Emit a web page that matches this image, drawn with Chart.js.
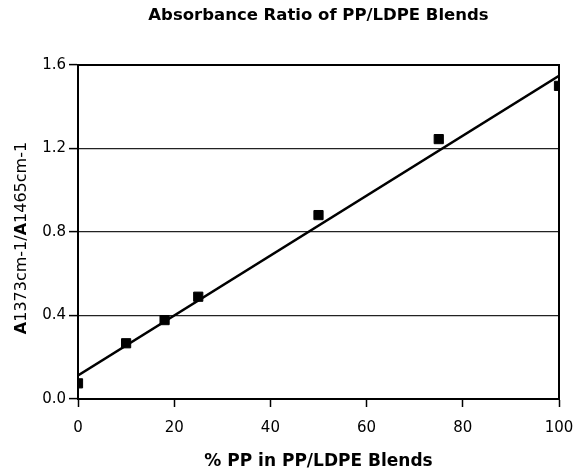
<!DOCTYPE html>
<html>
<head>
<meta charset="utf-8">
<script src="https://cdn.jsdelivr.net/npm/chart.js@4"></script>
<style>
  html, body { margin: 0; padding: 0; background: #fff; }
  #wrap { width: 575px; height: 470px; }
</style>
</head>
<body>
<div id="wrap"><canvas id="absChart" width="575" height="470"></canvas></div>
<script>
// % PP in blend vs. absorbance ratio A1373/A1465
const ppPercent = [0, 10, 18, 25, 50, 75, 100];
const absRatio = [0.075, 0.267, 0.378, 0.49, 0.881, 1.245, 1.50];

// linear fit line end points
const fitX = [0, 100];
const fitY = [0.113, 1.548];

const xTicks = [0, 20, 40, 60, 80, 100];
const yTicks = [0.0, 0.4, 0.8, 1.2, 1.6];

const FONT = "'DejaVu Sans', Verdana, sans-serif";

// frame on top/right + y title with bold "A"
const framePlugin = {
  id: "frame",
  afterDraw(chart) {
    const { ctx, chartArea: a } = chart;
    ctx.save();
    ctx.strokeStyle = "#000";
    ctx.lineWidth = 2;
    ctx.beginPath();
    ctx.moveTo(a.left, a.top);
    ctx.lineTo(a.right, a.top);
    ctx.lineTo(a.right, a.bottom);
    ctx.stroke();
    ctx.restore();

    const parts = [
      ["A", "bold"],
      ["1373cm-1/", "normal"],
      ["A", "bold"],
      ["1465cm-1", "normal"],
    ];
    ctx.save();
    ctx.fillStyle = "#000";
    ctx.textBaseline = "middle";
    ctx.textAlign = "left";
    let total = 0;
    parts.forEach(([t, w]) => {
      ctx.font = `${w} 16px ${FONT}`;
      total += ctx.measureText(t).width;
    });
    ctx.translate(22, 238);
    ctx.rotate(-Math.PI / 2);
    let x = -total / 2;
    parts.forEach(([t, w]) => {
      ctx.font = `${w} 16px ${FONT}`;
      ctx.fillText(t, x, 0);
      x += ctx.measureText(t).width;
    });
    ctx.restore();
  },
};

new Chart(document.getElementById("absChart"), {
  type: "scatter",
  data: {
    datasets: [
      {
        label: "fit",
        data: fitX.map((x, i) => ({ x, y: fitY[i] })),
        showLine: true,
        borderColor: "#000",
        borderWidth: 2.5,
        pointRadius: 0,
        fill: false,
      },
      {
        label: "measured",
        data: ppPercent.map((x, i) => ({ x, y: absRatio[i] })),
        pointStyle: "rect",
        pointRadius: 6.5,
        pointBackgroundColor: "#000",
        pointBorderColor: "#000",
        pointBorderWidth: 1,
        showLine: false,
      },
    ],
  },
  options: {
    responsive: false,
    animation: false,
    layout: { padding: { left: 0, right: 16, top: 0, bottom: 0 } },
    plugins: {
      legend: { display: false },
      tooltip: { enabled: false },
      title: {
        display: true,
        fullSize: false,
        text: "Absorbance Ratio of PP/LDPE Blends",
        color: "#000",
        font: { family: FONT, size: 16.5, weight: "bold" },
        padding: { top: 6, bottom: 39.2 },
      },
    },
    scales: {
      x: {
        type: "linear",
        min: 0,
        max: 100,
        afterBuildTicks: (s) => { s.ticks = xTicks.map((v) => ({ value: v })); },
        afterFit: (s) => {
          s.height = 71;
          s.paddingLeft = 0;
          s.paddingRight = 0;
        },
        grid: { drawOnChartArea: false, color: "#000", tickLength: 8, tickWidth: 1.5 },
        border: { color: "#000", width: 2 },
        ticks: { color: "#000", padding: 12, font: { family: FONT, size: 15 } },
        title: {
          display: true,
          text: "% PP in PP/LDPE Blends",
          color: "#000",
          font: { family: FONT, size: 17, weight: "bold", lineHeight: 1.0 },
          padding: { top: 0, bottom: 0 },
        },
      },
      y: {
        type: "linear",
        min: 0,
        max: 1.6,
        afterBuildTicks: (s) => { s.ticks = yTicks.map((v) => ({ value: v })); },
        afterFit: (s) => { s.width = 78; },
        grid: {
          color: "#222",
          lineWidth: 1.2,
          tickColor: "#000",
          tickLength: 9,
          tickWidth: 1.5,
        },
        border: { color: "#000", width: 2 },
        ticks: {
          color: "#000",
          padding: 3,
          font: { family: FONT, size: 15 },
          callback: (v) => v.toFixed(1),
        },
      },
    },
  },
  plugins: [framePlugin],
});
</script>
</body>
</html>
